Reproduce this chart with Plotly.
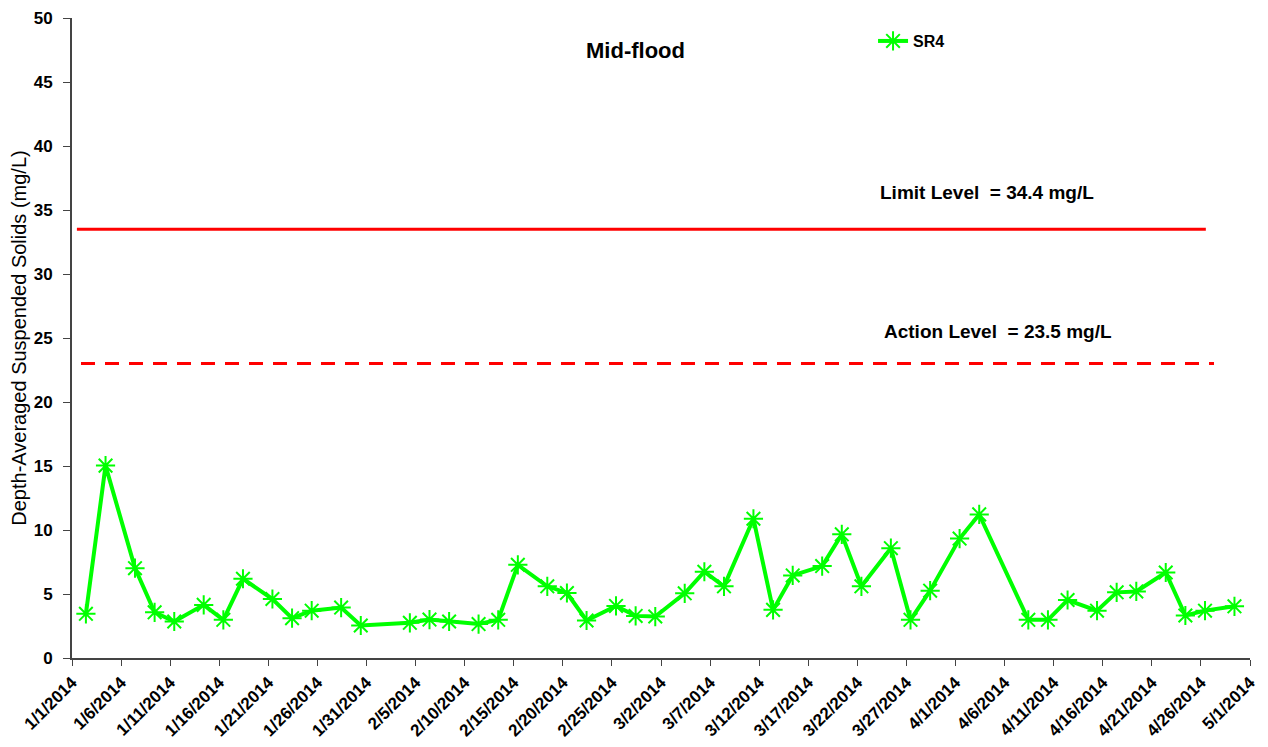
import plotly.graph_objects as go

# SR4 mid-flood depth-averaged SS (mg/L), sampled mid-morning
sample_dates = [
    "2014-01-02", "2014-01-04", "2014-01-07", "2014-01-09", "2014-01-11",
    "2014-01-14", "2014-01-16", "2014-01-18", "2014-01-21", "2014-01-23",
    "2014-01-25", "2014-01-28", "2014-01-30", "2014-02-04", "2014-02-06",
    "2014-02-08", "2014-02-11", "2014-02-13", "2014-02-15", "2014-02-18",
    "2014-02-20", "2014-02-22", "2014-02-25", "2014-02-27", "2014-03-01",
    "2014-03-04", "2014-03-06", "2014-03-08", "2014-03-11", "2014-03-13",
    "2014-03-15", "2014-03-18", "2014-03-20", "2014-03-22", "2014-03-25",
    "2014-03-27", "2014-03-29", "2014-04-01", "2014-04-03", "2014-04-08",
    "2014-04-10", "2014-04-12", "2014-04-15", "2014-04-17", "2014-04-19",
    "2014-04-22", "2014-04-24", "2014-04-26", "2014-04-29",
]
sr4 = [
    3.45, 15.03, 7.02, 3.57, 2.85,
    4.15, 2.98, 6.19, 4.61, 3.11,
    3.70, 3.94, 2.54, 2.75, 3.00,
    2.85, 2.65, 2.98, 7.28, 5.60,
    5.08, 2.93, 4.07, 3.29, 3.24,
    5.05, 6.74, 5.60, 10.88, 3.76,
    6.45, 7.18, 9.66, 5.60, 8.58,
    2.98, 5.26, 9.33, 11.22, 2.98,
    2.98, 4.53, 3.70, 5.13, 5.20,
    6.68, 3.32, 3.70, 4.04,
]
sample_time = "10:00"

limit_x = ["2014-01-01 12:00", "2014-04-26 12:00"]
limit_y = [33.5, 33.5]
action_x = ["2014-01-01 22:00", "2014-04-27 08:00"]
action_y = [23.0, 23.0]

FONT = "Liberation Sans, Arial, sans-serif"

fig = go.Figure()

fig.add_trace(go.Scatter(
    x=limit_x, y=limit_y, mode="lines",
    line=dict(color="#ff0000", width=3), showlegend=False, hoverinfo="skip",
))
fig.add_trace(go.Scatter(
    x=action_x, y=action_y, mode="lines",
    line=dict(color="#ff0000", width=3, dash="14px,10px"),
    showlegend=False, hoverinfo="skip",
))
fig.add_trace(go.Scatter(
    x=[d + " " + sample_time for d in sample_dates], y=sr4,
    mode="lines+markers", name="SR4",
    line=dict(color="#00ff00", width=4),
    marker=dict(symbol="asterisk-open", size=16, color="#00ff00",
                line=dict(color="#00ff00", width=2)),
))

fig.add_annotation(x=0.478, y=0.95, xref="paper", yref="paper", text="<b>Mid-flood</b>",
                   showarrow=False, xanchor="center", yanchor="middle",
                   font=dict(family=FONT, size=22, color="black"))
fig.add_annotation(x="2014-04-04 05:00", y=36.4, text="<b>Limit Level  = 34.4 mg/L</b>",
                   showarrow=False, font=dict(family=FONT, size=19, color="black"))
fig.add_annotation(x="2014-04-05 07:00", y=25.5, text="<b>Action Level  = 23.5 mg/L</b>",
                   showarrow=False, font=dict(family=FONT, size=19, color="black"))

# page body adds 8px around the figure, so the figure is sized to fit inside it
fig.update_layout(
    width=1252, height=731,
    margin=dict(l=64, r=10, t=10, b=81, autoexpand=False),
    plot_bgcolor="white", paper_bgcolor="white",
    font=dict(family=FONT, color="black"),
    legend=dict(x=0.68, y=0.964, xanchor="left", yanchor="middle",
                bgcolor="rgba(0,0,0,0)",
                font=dict(family=FONT, size=16, color="black", weight="bold")),
)
fig.update_xaxes(
    type="date", range=["2014-01-01", "2014-05-01"], automargin=False,
    tick0="2014-01-01", dtick=5 * 86400000, tickformat="%-m/%-d/%Y",
    tickangle=-45, ticks="outside", ticklen=6, tickcolor="#444",
    showline=True, linecolor="#444", linewidth=2, showgrid=False, zeroline=False,
    tickfont=dict(family=FONT, size=17, color="black", weight="bold"),
)
fig.update_yaxes(
    range=[0, 50], dtick=5, ticks="outside", ticklen=7, tickcolor="#444",
    automargin=False,
    showline=True, linecolor="#444", linewidth=2, showgrid=False, zeroline=False,
    ticklabelstandoff=7,
    tickfont=dict(family=FONT, size=17, color="black", weight="bold"),
    title=dict(text="Depth-Averaged Suspended Solids (mg/L)", standoff=8,
               font=dict(family=FONT, size=20, color="black")),
)

fig.write_html("out.html")
